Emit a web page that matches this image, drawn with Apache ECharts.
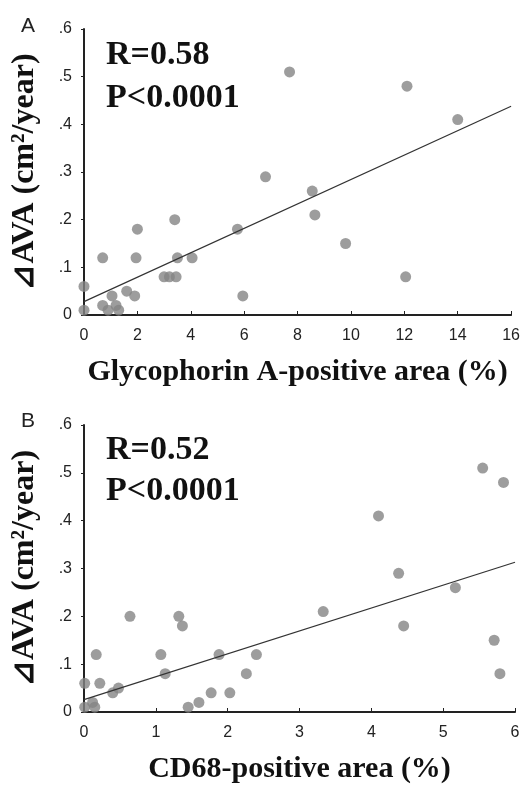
<!DOCTYPE html>
<html><head><meta charset="utf-8">
<script src="https://cdn.jsdelivr.net/npm/echarts@6/dist/echarts.min.js"></script>
<style>html,body{margin:0;padding:0;background:#fff}#c{width:523px;height:788px}</style>
</head><body><div id="c"></div>
<script>
// Panel A: Glycophorin A-positive area (%) vs ΔAVA
const pointsA = [
  [0,0.06],[0,0.01],[0.7,0.02],[0.9,0.01],[1.05,0.04],[1.2,0.02],[1.3,0.01],[1.6,0.05],[1.9,0.04],
  [0.7,0.12],[1.95,0.12],[2.0,0.18],[3.0,0.08],[3.2,0.08],[3.45,0.08],[3.4,0.20],[3.5,0.12],[4.05,0.12],
  [5.75,0.18],[5.95,0.04],[6.8,0.29],[7.7,0.51],[8.55,0.26],[8.65,0.21],[9.8,0.15],[12.05,0.08],[12.1,0.48],[14.0,0.41]
];
const fitA = [[0,0.028],[16,0.438]];
// Panel B: CD68-positive area (%) vs ΔAVA
const pointsB = [
  [0.01,0.06],[0.22,0.06],[0.4,0.04],[0.48,0.05],[0.01,0.01],[0.12,0.02],[0.15,0.01],[0.17,0.12],[0.64,0.20],
  [1.07,0.12],[1.13,0.08],[1.32,0.20],[1.37,0.18],[1.45,0.01],[1.6,0.02],[1.77,0.04],[1.88,0.12],[2.03,0.04],
  [2.26,0.08],[2.4,0.12],[3.33,0.21],[4.1,0.41],[4.38,0.29],[4.45,0.18],[5.17,0.26],[5.55,0.51],[5.71,0.15],[5.79,0.08],[5.84,0.48]
];
const fitB = [[0,0.026],[6,0.313]];
const statsA = ['R=0.58','P<0.0001'];
const statsB = ['R=0.52','P<0.0001'];
const xNameA = 'Glycophorin A-positive area (%)';
const xNameB = 'CD68-positive area (%)';
const yName = '\u22BFAVA (cm\u00B2/year)';

const serif = '"Liberation Serif","Times New Roman",serif';
const sans = '"Liberation Sans",Arial,sans-serif';
const axisCol = '#222';
function xAx(idx, max, interval, name){
  return {type:'value', gridIndex:idx, min:0, max:max, interval:interval,
    name:name, nameLocation:'middle', nameGap:42,
    nameTextStyle:{fontFamily:serif, fontWeight:'bold', fontSize:30, color:'#111'},
    axisLine:{show:true, lineStyle:{color:axisCol, width:2}},
    axisTick:{show:true, inside:true, length:4, lineStyle:{color:axisCol}},
    axisLabel:{fontFamily:sans, fontSize:16, color:'#222', margin:13},
    splitLine:{show:false}};
}
function yAx(idx){
  return {type:'value', gridIndex:idx, min:0, max:0.6, interval:0.1,
    name:yName, nameLocation:'middle', nameGap:43,
    nameTextStyle:{fontFamily:serif, fontWeight:'bold', fontSize:32, color:'#111'},
    axisLine:{show:true, lineStyle:{color:axisCol, width:2}},
    axisTick:{show:true, inside:false, length:3, lineStyle:{color:axisCol}},
    axisLabel:{fontFamily:sans, fontSize:16, color:'#222', margin:12,
      formatter:v => v===0 ? '0' : '.' + Math.round(v*10)},
    splitLine:{show:false}};
}
const dot = {color:'#858585'};
const chart = echarts.init(document.getElementById('c'));
chart.setOption({
  animation:false,
  grid:[{left:84, top:29, width:431, height:286},{left:84, top:425, width:431, height:287}],
  xAxis:[xAx(0,16,2,xNameA), xAx(1,6,1,xNameB)],
  yAxis:[yAx(0), yAx(1)],
  series:[
    {type:'scatter', xAxisIndex:0, yAxisIndex:0, data:pointsA, symbolSize:11, itemStyle:dot},
    {type:'line', xAxisIndex:0, yAxisIndex:0, data:fitA, symbol:'none', lineStyle:{color:'#333', width:1.2}},
    {type:'scatter', xAxisIndex:1, yAxisIndex:1, data:pointsB, symbolSize:11, itemStyle:dot},
    {type:'line', xAxisIndex:1, yAxisIndex:1, data:fitB, symbol:'none', lineStyle:{color:'#333', width:1.2}}
  ],
  graphic:[
    {type:'text', left:21, top:16, style:{text:'A', font:'21px '+sans, fill:'#222'}},
    {type:'text', left:21, top:411, style:{text:'B', font:'21px '+sans, fill:'#222'}},
    {type:'text', left:106, top:38, style:{text:statsA[0], font:'bold 34px '+serif, fill:'#111'}},
    {type:'text', left:106, top:81, style:{text:statsA[1], font:'bold 34px '+serif, fill:'#111'}},
    {type:'text', left:106, top:433, style:{text:statsB[0], font:'bold 34px '+serif, fill:'#111'}},
    {type:'text', left:106, top:474, style:{text:statsB[1], font:'bold 34px '+serif, fill:'#111'}}
  ]
});
</script></body></html>
